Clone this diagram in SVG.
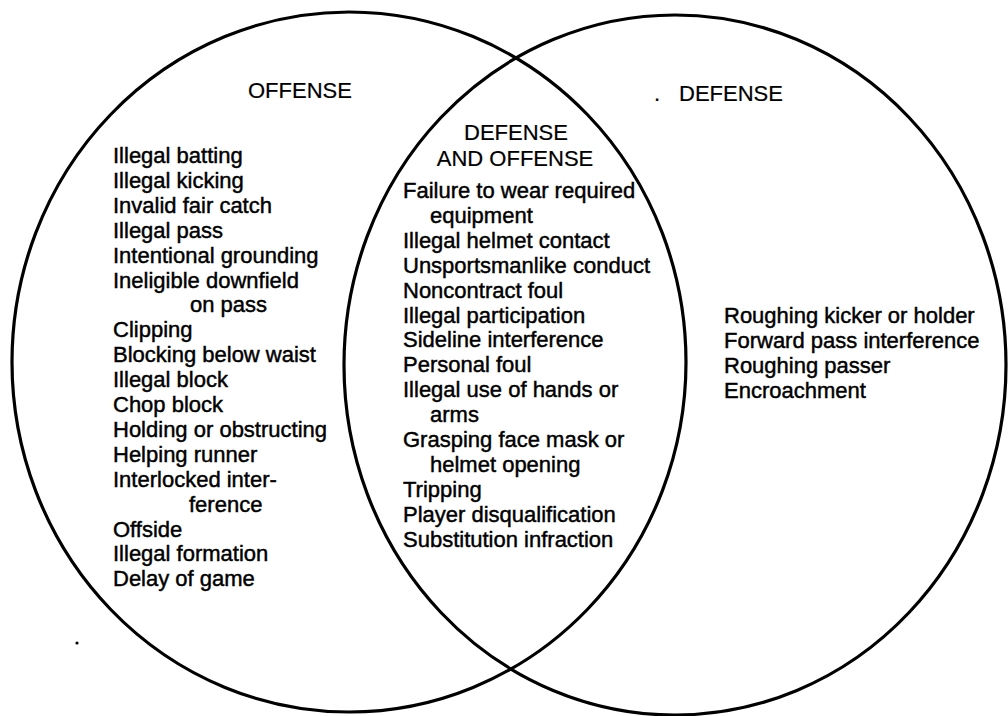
<svg xmlns="http://www.w3.org/2000/svg" width="1008" height="716" viewBox="0 0 1008 716">
  <style>
    .set { fill: none; stroke: #000; stroke-width: 3.2; }
    .lbl { font-family: "Liberation Sans", Arial, sans-serif; font-size: 22px; fill: #000; stroke: #000; stroke-width: 0.45; }
    .head { font-family: "Liberation Sans", Arial, sans-serif; font-size: 22px; fill: #000; stroke-width: 0.2; }
  </style>
  <rect width="1008" height="716" fill="#fff"/>

  <!-- the two overlapping sets -->
  <g id="sets">
    <ellipse id="offense-set" class="set" cx="349" cy="362" rx="337" ry="350"/>
    <ellipse id="defense-set" class="set" cx="675" cy="365" rx="331" ry="350"/>
  </g>

  <!-- offense only -->
  <g id="offense" class="lbl">
    <text class="head" x="248" y="98">OFFENSE</text>
    <text x="113" y="163">Illegal batting</text>
    <text x="113" y="187.9">Illegal kicking</text>
    <text x="113" y="212.8">Invalid fair catch</text>
    <text x="113" y="237.7">Illegal pass</text>
    <text x="113" y="262.6">Intentional grounding</text>
    <text x="113" y="287.5">Ineligible downfield</text>
    <text x="190" y="312.4">on pass</text>
    <text x="113" y="337.3">Clipping</text>
    <text x="113" y="362.2">Blocking below waist</text>
    <text x="113" y="387.1">Illegal block</text>
    <text x="113" y="412">Chop block</text>
    <text x="113" y="436.9">Holding or obstructing</text>
    <text x="113" y="461.8">Helping runner</text>
    <text x="113" y="486.7">Interlocked inter-</text>
    <text x="189" y="511.6">ference</text>
    <text x="113" y="536.5">Offside</text>
    <text x="113" y="561.4">Illegal formation</text>
    <text x="113" y="586.3">Delay of game</text>
  </g>

  <!-- both defense and offense -->
  <g id="both" class="lbl">
    <text class="head" x="516" y="140" text-anchor="middle">DEFENSE</text>
    <text class="head" x="515" y="166" text-anchor="middle">AND OFFENSE</text>
    <text x="403" y="198">Failure to wear required</text>
    <text x="430" y="222.9">equipment</text>
    <text x="403" y="247.8">Illegal helmet contact</text>
    <text x="403" y="272.7">Unsportsmanlike conduct</text>
    <text x="403" y="297.6">Noncontract foul</text>
    <text x="403" y="322.5">Illegal participation</text>
    <text x="403" y="347.4">Sideline interference</text>
    <text x="403" y="372.3">Personal foul</text>
    <text x="403" y="397.2">Illegal use of hands or</text>
    <text x="430" y="422.1">arms</text>
    <text x="403" y="447">Grasping face mask or</text>
    <text x="430" y="471.9">helmet opening</text>
    <text x="403" y="496.8">Tripping</text>
    <text x="403" y="521.7">Player disqualification</text>
    <text x="403" y="546.6">Substitution infraction</text>
  </g>

  <!-- defense only -->
  <g id="defense" class="lbl">
    <text class="head" x="654" y="101">.</text>
    <text class="head" x="679" y="101">DEFENSE</text>
    <text x="724" y="323">Roughing kicker or holder</text>
    <text x="724" y="348">Forward pass interference</text>
    <text x="724" y="373">Roughing passer</text>
    <text x="724" y="398">Encroachment</text>
  </g>

  <!-- stray print speck -->
  <circle cx="77" cy="643" r="1.6" fill="#000"/>
</svg>
